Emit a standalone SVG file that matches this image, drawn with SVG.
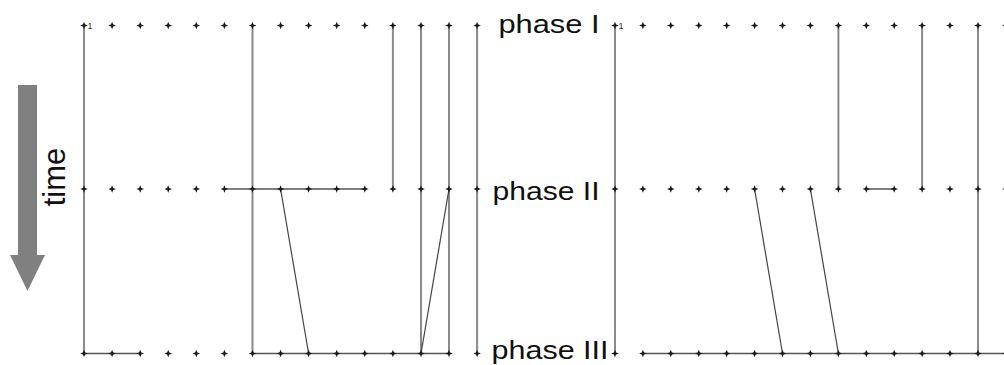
<svg xmlns="http://www.w3.org/2000/svg" xmlns:xlink="http://www.w3.org/1999/xlink" width="1004" height="365" viewBox="0 0 1004 365">
<style>
.v{stroke:#8a8a8a;stroke-width:2;fill:none}
.h{stroke:#555;stroke-width:1.5;fill:none}
.d{stroke:#444;stroke-width:1.2;fill:none}
.lbl{font-family:"Liberation Sans",Arial,sans-serif;font-size:26px;fill:#111}
.one{font-family:"Liberation Sans",Arial,sans-serif;font-size:9px;fill:#333}
</style>
<defs>
<path id="dot" d="M-3.8,0 L0,-1.5 L3.8,0 L0,1.5 Z M0,-3.8 L1.5,0 L0,3.8 L-1.5,0 Z" fill="#1a1a1a"/>
</defs>
<rect width="1004" height="365" fill="#fff"/>

<g id="time-arrow">
<path d="M18,85 H37 V255 H45 L27.5,291 L10,255 H18 Z" fill="#808080"/>
<text class="lbl" style="font-size:31px" transform="translate(65,177) rotate(-90)" text-anchor="middle">time</text>
</g>

<g id="connectors">
<!-- left panel -->
<line class="v" x1="84" y1="25.5" x2="84" y2="353.5"/>
<line class="v" x1="252.5" y1="25.5" x2="252.5" y2="353.5"/>
<line class="v" x1="392.9" y1="25.5" x2="392.9" y2="189"/>
<line class="v" x1="421" y1="25.5" x2="421" y2="353.5"/>
<line class="v" x1="449" y1="25.5" x2="449" y2="353.5"/>
<line class="v" x1="477.1" y1="25.5" x2="477.1" y2="353.5"/>
<line class="h" x1="224.4" y1="189" x2="364.8" y2="189"/>
<line class="d" x1="280.6" y1="189" x2="308.6" y2="353.5"/>
<line class="d" x1="449" y1="189" x2="421" y2="353.5"/>
<line class="h" x1="84" y1="353.5" x2="140.2" y2="353.5"/>
<line class="h" x1="252.5" y1="353.5" x2="449" y2="353.5"/>
<!-- right panel -->
<line class="v" x1="615" y1="25.5" x2="615" y2="353.5"/>
<line class="v" x1="838.4" y1="25.5" x2="838.4" y2="189"/>
<line class="v" x1="922.1" y1="25.5" x2="922.1" y2="189"/>
<line class="v" x1="978" y1="25.5" x2="978" y2="353.5"/>
<line class="h" x1="866.3" y1="189" x2="894.2" y2="189"/>
<line class="d" x1="754.6" y1="189" x2="782.5" y2="353.5"/>
<line class="d" x1="810.4" y1="189" x2="838.4" y2="353.5"/>
<line class="h" x1="642.9" y1="353.5" x2="1004" y2="353.5"/>
</g>

<g id="left-phase-I">
<use xlink:href="#dot" x="84" y="25.5"/><use xlink:href="#dot" x="112.1" y="25.5"/><use xlink:href="#dot" x="140.2" y="25.5"/><use xlink:href="#dot" x="168.2" y="25.5"/><use xlink:href="#dot" x="196.3" y="25.5"/><use xlink:href="#dot" x="224.4" y="25.5"/><use xlink:href="#dot" x="252.5" y="25.5"/><use xlink:href="#dot" x="280.6" y="25.5"/><use xlink:href="#dot" x="308.6" y="25.5"/><use xlink:href="#dot" x="336.7" y="25.5"/><use xlink:href="#dot" x="364.8" y="25.5"/><use xlink:href="#dot" x="392.9" y="25.5"/><use xlink:href="#dot" x="421" y="25.5"/><use xlink:href="#dot" x="449" y="25.5"/><use xlink:href="#dot" x="477.1" y="25.5"/>
<text class="one" x="87.5" y="29">1</text>
</g>
<g id="left-phase-II">
<use xlink:href="#dot" x="84" y="189"/><use xlink:href="#dot" x="112.1" y="189"/><use xlink:href="#dot" x="140.2" y="189"/><use xlink:href="#dot" x="168.2" y="189"/><use xlink:href="#dot" x="196.3" y="189"/><use xlink:href="#dot" x="224.4" y="189"/><use xlink:href="#dot" x="252.5" y="189"/><use xlink:href="#dot" x="280.6" y="189"/><use xlink:href="#dot" x="308.6" y="189"/><use xlink:href="#dot" x="336.7" y="189"/><use xlink:href="#dot" x="364.8" y="189"/><use xlink:href="#dot" x="392.9" y="189"/><use xlink:href="#dot" x="421" y="189"/><use xlink:href="#dot" x="449" y="189"/><use xlink:href="#dot" x="477.1" y="189"/>
</g>
<g id="left-phase-III">
<use xlink:href="#dot" x="84" y="353.5"/><use xlink:href="#dot" x="112.1" y="353.5"/><use xlink:href="#dot" x="140.2" y="353.5"/><use xlink:href="#dot" x="168.2" y="353.5"/><use xlink:href="#dot" x="196.3" y="353.5"/><use xlink:href="#dot" x="224.4" y="353.5"/><use xlink:href="#dot" x="252.5" y="353.5"/><use xlink:href="#dot" x="280.6" y="353.5"/><use xlink:href="#dot" x="308.6" y="353.5"/><use xlink:href="#dot" x="336.7" y="353.5"/><use xlink:href="#dot" x="364.8" y="353.5"/><use xlink:href="#dot" x="392.9" y="353.5"/><use xlink:href="#dot" x="421" y="353.5"/><use xlink:href="#dot" x="449" y="353.5"/><use xlink:href="#dot" x="477.1" y="353.5"/>
</g>

<g id="labels">
<text class="lbl" x="498.5" y="33" textLength="101" lengthAdjust="spacingAndGlyphs">phase I</text>
<text class="lbl" x="492.5" y="200" textLength="107" lengthAdjust="spacingAndGlyphs">phase II</text>
<text class="lbl" x="491.5" y="358.5" textLength="117" lengthAdjust="spacingAndGlyphs">phase III</text>
</g>

<g id="right-phase-I">
<use xlink:href="#dot" x="615" y="25.5"/><use xlink:href="#dot" x="642.9" y="25.5"/><use xlink:href="#dot" x="670.8" y="25.5"/><use xlink:href="#dot" x="698.8" y="25.5"/><use xlink:href="#dot" x="726.7" y="25.5"/><use xlink:href="#dot" x="754.6" y="25.5"/><use xlink:href="#dot" x="782.5" y="25.5"/><use xlink:href="#dot" x="810.4" y="25.5"/><use xlink:href="#dot" x="838.4" y="25.5"/><use xlink:href="#dot" x="866.3" y="25.5"/><use xlink:href="#dot" x="894.2" y="25.5"/><use xlink:href="#dot" x="922.1" y="25.5"/><use xlink:href="#dot" x="950" y="25.5"/><use xlink:href="#dot" x="978" y="25.5"/><use xlink:href="#dot" x="1005.9" y="25.5"/>
<text class="one" x="618.5" y="29">1</text>
</g>
<g id="right-phase-II">
<use xlink:href="#dot" x="615" y="189"/><use xlink:href="#dot" x="642.9" y="189"/><use xlink:href="#dot" x="670.8" y="189"/><use xlink:href="#dot" x="698.8" y="189"/><use xlink:href="#dot" x="726.7" y="189"/><use xlink:href="#dot" x="754.6" y="189"/><use xlink:href="#dot" x="782.5" y="189"/><use xlink:href="#dot" x="810.4" y="189"/><use xlink:href="#dot" x="838.4" y="189"/><use xlink:href="#dot" x="866.3" y="189"/><use xlink:href="#dot" x="894.2" y="189"/><use xlink:href="#dot" x="922.1" y="189"/><use xlink:href="#dot" x="950" y="189"/><use xlink:href="#dot" x="978" y="189"/><use xlink:href="#dot" x="1005.9" y="189"/>
</g>
<g id="right-phase-III">
<use xlink:href="#dot" x="615" y="353.5"/><use xlink:href="#dot" x="642.9" y="353.5"/><use xlink:href="#dot" x="670.8" y="353.5"/><use xlink:href="#dot" x="698.8" y="353.5"/><use xlink:href="#dot" x="726.7" y="353.5"/><use xlink:href="#dot" x="754.6" y="353.5"/><use xlink:href="#dot" x="782.5" y="353.5"/><use xlink:href="#dot" x="810.4" y="353.5"/><use xlink:href="#dot" x="838.4" y="353.5"/><use xlink:href="#dot" x="866.3" y="353.5"/><use xlink:href="#dot" x="894.2" y="353.5"/><use xlink:href="#dot" x="922.1" y="353.5"/><use xlink:href="#dot" x="950" y="353.5"/><use xlink:href="#dot" x="978" y="353.5"/><use xlink:href="#dot" x="1005.9" y="353.5"/>
</g>
</svg>
